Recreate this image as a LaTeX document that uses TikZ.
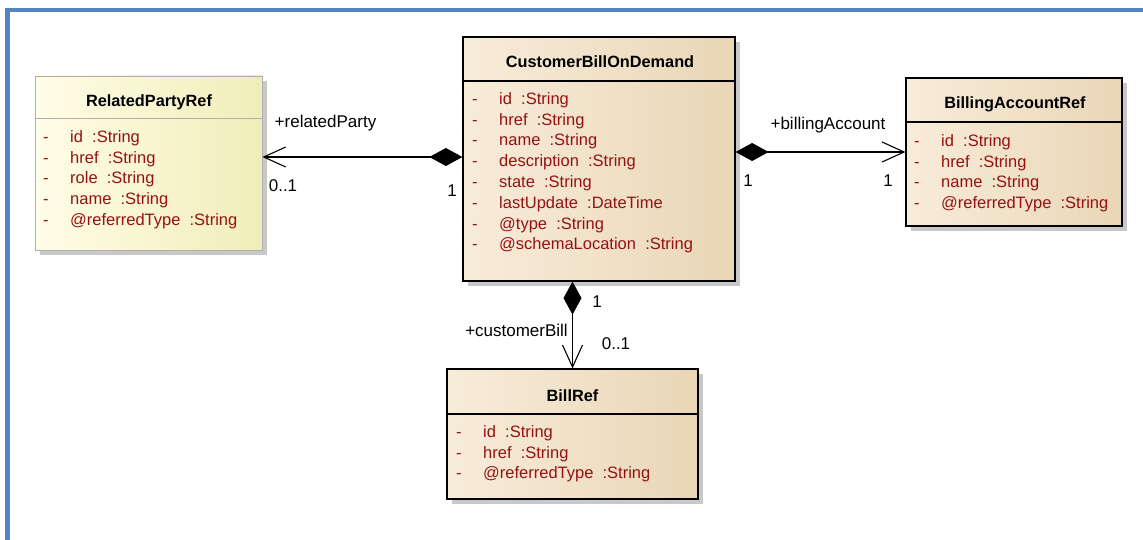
\documentclass[tikz,border=0pt]{standalone}
\usepackage{fontspec}
\setmainfont{Liberation Sans}
\usetikzlibrary{arrows.meta, positioning, shadows}

\definecolor{frameblue}{RGB}{84,130,195}
\definecolor{tanL}{RGB}{248,236,218}
\definecolor{tanM}{RGB}{251,243,232}
\definecolor{tanR}{RGB}{233,214,182}
\definecolor{yelL}{RGB}{255,253,230}
\definecolor{yelR}{RGB}{241,237,186}
\definecolor{boxgray}{RGB}{175,175,175}
\definecolor{shadowgray}{RGB}{200,200,200}
\definecolor{attrred}{RGB}{150,18,18}

\begin{document}
\begin{tikzpicture}[x=1pt, y=-1pt, every node/.style={font=\fontsize{17}{20.8}\selectfont}, >=Latex,
  classbox/.style={draw=black, line width=1.2pt, inner sep=0pt,
    drop shadow={shadow xshift=5pt, shadow yshift=-5pt, fill=shadowgray, opacity=1}},
  tanbox/.style={classbox, left color=tanL, middle color=tanM, right color=tanR},
  yellowbox/.style={classbox, draw=boxgray, line width=0.8pt, left color=yelL, right color=yelR},
  classname/.style={anchor=base, font=\fontsize{16.3}{20.8}\selectfont\bfseries},
  attrs/.style={anchor=north west, inner sep=0pt, text=attrred, font=\fontsize{16.5}{20.8}\selectfont},
  rolelabel/.style={anchor=base},
  assoc/.style={line width=1.1pt, {Diamond[length=33pt,width=18pt]}-{Straight Barb[length=22pt,width=20pt]}}]

\useasboundingbox (0,0) rectangle (1143,540);

% Frame
\draw[frameblue, line width=4.5pt] (7.5,545) -- (7.5,10) -- (1150,10);

% Classes
\node (rpr) [yellowbox, minimum width=227pt, minimum height=174pt] at (148.5,163) {};
\node (rpr-name) [classname] at (149,107) {RelatedPartyRef};
\draw[boxgray, line width=0.8pt] (rpr.west |- 0,118) -- (rpr.east |- 0,118);
\node (rpr-attrs) [attrs] at (43,127.5) {\begin{tabular}{@{}p{27pt}@{}l@{}}
  - & id~~:String\\
  - & href~~:String\\
  - & role~~:String\\
  - & name~~:String\\
  - & @referredType~~:String
\end{tabular}};

\node (cbod) [tanbox, minimum width=272pt, minimum height=244pt] at (599,159) {};
\node (cbod-name) [classname] at (600,68) {CustomerBillOnDemand};
\draw[line width=1.2pt] (cbod.west |- 0,81) -- (cbod.east |- 0,81);
\node (cbod-attrs) [attrs] at (472,89.5) {\begin{tabular}{@{}p{27pt}@{}l@{}}
  - & id~~:String\\
  - & href~~:String\\
  - & name~~:String\\
  - & description~~:String\\
  - & state~~:String\\
  - & lastUpdate~~:DateTime\\
  - & @type~~:String\\
  - & @schemaLocation~~:String
\end{tabular}};

\node (bar) [tanbox, minimum width=216pt, minimum height=148pt] at (1014,152) {};
\node (bar-name) [classname] at (1015,109) {BillingAccountRef};
\draw[line width=1.2pt] (bar.west |- 0,122) -- (bar.east |- 0,122);
\node (bar-attrs) [attrs] at (914,131.5) {\begin{tabular}{@{}p{27pt}@{}l@{}}
  - & id~~:String\\
  - & href~~:String\\
  - & name~~:String\\
  - & @referredType~~:String
\end{tabular}};

\node (bill) [tanbox, minimum width=251pt, minimum height=130pt] at (572.5,434) {};
\node (bill-name) [classname] at (572.5,401) {BillRef};
\draw[line width=1.2pt] (bill.west |- 0,414) -- (bill.east |- 0,414);
\node (bill-attrs) [attrs] at (456,422.5) {\begin{tabular}{@{}p{27pt}@{}l@{}}
  - & id~~:String\\
  - & href~~:String\\
  - & @referredType~~:String
\end{tabular}};

% Associations
\draw[assoc] (cbod.west |- 0,157) -- (rpr.east |- 0,157);
\draw[assoc] (cbod.east |- bar.west) -- (bar.west);
\draw[assoc] (cbod.south -| bill.north) -- (bill.north);

% Role labels and multiplicities
\node (rp-role) [rolelabel] at (325.5,128) {+relatedParty};
\node (rp-mult) [rolelabel] at (283,192) {0..1};
\node (rp-one) [rolelabel] at (452,197) {1};
\node (ba-role) [rolelabel] at (828,130) {+billingAccount};
\node (ba-one) [rolelabel] at (748,187) {1};
\node (ba-mult) [rolelabel] at (888,187) {1};
\node (cb-role) [rolelabel] at (516.5,336) {+customerBill};
\node (cb-one) [rolelabel] at (597,307) {1};
\node (cb-mult) [rolelabel] at (616,349) {0..1};

\end{tikzpicture}
\end{document}
